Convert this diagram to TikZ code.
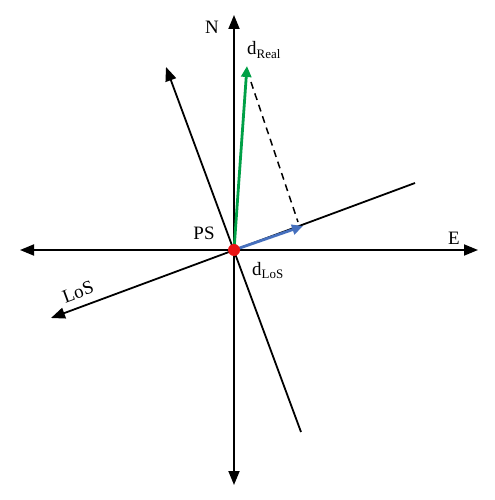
\documentclass[tikz,border=0pt]{standalone}
\usepackage{fontspec}
\setmainfont{Liberation Serif}
\usetikzlibrary{arrows.meta}
\definecolor{vgreen}{RGB}{0,160,70}
\definecolor{vblue}{RGB}{70,112,190}
\definecolor{vred}{RGB}{232,20,20}
\newcommand{\sbtext}[1]{\raisebox{-0.45ex}{\fontsize{13}{13}\selectfont #1}}
\begin{document}
\begin{tikzpicture}[x=1bp,y=-1bp,
  axis/.style={line width=1.8bp,-{Triangle[length=14bp,width=11bp]}},
  vec/.style={line width=2.8bp,-{Triangle[length=11bp,width=10bp]}},
  lbl/.style={font=\fontsize{19}{21}\selectfont,inner sep=1bp}]
\useasboundingbox (0,0) rectangle (495,500);
\coordinate (O) at (234,250);
\coordinate (Ntip) at (234,15);
\coordinate (Stip) at (234,485);
\coordinate (Wtip) at (20,250);
\coordinate (Etip) at (478,250);
\coordinate (P1) at (166,67);
\coordinate (P2) at (301,432);
\coordinate (L1) at (415,183);
\coordinate (L2) at (51,318);
\coordinate (G) at (247,66);
\coordinate (B) at (303,226);
\coordinate (D1) at (251,82);
\coordinate (D2) at (298,222);
% axes
\draw[axis] (O) -- (Ntip);
\draw[axis] (O) -- (Stip);
\draw[axis] (O) -- (Wtip);
\draw[axis] (O) -- (Etip);
% tilted lines
\draw[axis] (P2) -- (P1);
\draw[axis] (L1) -- (L2);
% dashed projection
\draw[line width=1.5bp,dash pattern=on 7bp off 5bp] (D1) -- (D2);
% vectors
\draw[vec,vgreen] (O) -- (G);
\draw[vec,vblue] (O) -- (B);
\fill[vred] (O) circle (6bp);
% labels
\node[lbl] (nN) at (212,27) {N};
\node[lbl,anchor=base west] (nReal) at (246,55) {d\sbtext{Real}};
\node[lbl] (nPS) at (204,233) {PS};
\node[lbl] (nE) at (454,238) {E};
\node[lbl,anchor=base west] (nLoS) at (251,275) {d\sbtext{LoS}};
\node[lbl,rotate=20.3] (nL) at (78,292) {LoS};
\end{tikzpicture}
\end{document}
